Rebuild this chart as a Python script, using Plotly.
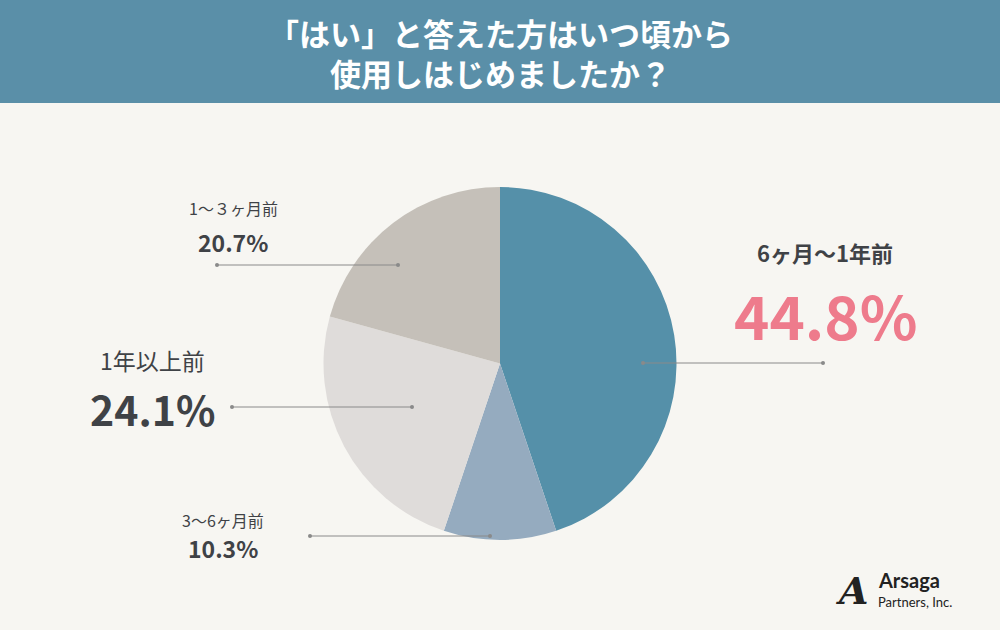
import plotly.graph_objects as go

labels = ["6ヶ月〜1年前", "3〜6ヶ月前", "1年以上前", "1〜３ヶ月前"]
values = [44.8, 10.3, 24.1, 20.7]
colors = ["#5590a9", "#95abbf", "#dfdcda", "#c5c0b9"]

W, H = 1000, 630
BG = "#f7f6f2"
DARK = "#3f4246"


def px(x):
    return x / W


def py(y):
    return 1 - y / H


fig = go.Figure(go.Pie(
    values=values, labels=labels, sort=False, direction="clockwise", rotation=0,
    marker=dict(colors=colors, line=dict(width=0)), textinfo="none",
    hoverinfo="label+percent", showlegend=False,
    domain=dict(x=[px(323), px(677)], y=[py(540), py(187)]),
))

shapes = [dict(type="rect", xref="paper", yref="paper", x0=0, x1=1, y0=py(103), y1=1,
               fillcolor="#5a8fa8", line_width=0, layer="below")]
# leader lines (x0, x1, y)
leaders = [(643, 823, 363), (310, 490, 536), (232, 412, 407), (217, 398, 265)]
for x0, x1, y in leaders:
    shapes.append(dict(type="line", xref="paper", yref="paper", x0=px(x0), x1=px(x1),
                       y0=py(y), y1=py(y), line=dict(color="#8a8a8a", width=1)))
    for x in (x0, x1):
        shapes.append(dict(type="circle", xref="paper", yref="paper",
                           x0=px(x - 2), x1=px(x + 2), y0=py(y - 2), y1=py(y + 2),
                           fillcolor="#8a8a8a", line_width=0))

F = "Noto Sans CJK JP"
ann = [
    dict(x=0.5, y=py(52), text="<b>「はい」と答えた方はいつ頃から<br>使用しはじめましたか？</b>",
         font=dict(size=31, color="white", family=F)),
    dict(x=px(825), y=py(252), text="<b>6ヶ月〜1年前</b>", font=dict(size=22, color=DARK, family=F)),
    dict(x=px(825), y=py(313), text="<b>%.1f%%</b>" % values[0], font=dict(size=60, color="#ee7b8c", family=F)),
    dict(x=px(152), y=py(360), text="1年以上前", font=dict(size=23, color=DARK, family=F)),
    dict(x=px(152), y=py(408), text="<b>%.1f%%</b>" % values[2], font=dict(size=41, color=DARK, family=F)),
    dict(x=px(233), y=py(208), text="1〜３ヶ月前", font=dict(size=16, color=DARK, family=F)),
    dict(x=px(233), y=py(242), text="<b>%.1f%%</b>" % values[3], font=dict(size=23, color=DARK, family=F)),
    dict(x=px(223), y=py(520), text="3〜6ヶ月前", font=dict(size=16, color=DARK, family=F)),
    dict(x=px(223), y=py(548), text="<b>%.1f%%</b>" % values[1], font=dict(size=23, color=DARK, family=F)),
    # logo
    dict(x=px(852), y=py(590), text="<i><b>A</b></i>", font=dict(size=38, color="#222", family="DejaVu Serif")),
    dict(x=px(876), y=py(580), text="<b>Arsaga</b>", xanchor="left", font=dict(size=20, color="#222", family="Lato")),
    dict(x=px(876), y=py(602), text="Partners, Inc.", xanchor="left", font=dict(size=13, color="#222", family="Lato")),
]
for a in ann:
    a.update(xref="paper", yref="paper", showarrow=False, yanchor="middle")
    a.setdefault("xanchor", "center")

fig.update_layout(width=W, height=H, margin=dict(l=0, r=0, t=0, b=0),
                  paper_bgcolor=BG, plot_bgcolor=BG, shapes=shapes, annotations=ann)
fig.write_html("out.html", config={"displayModeBar": False},
               post_script="document.body.style.margin='0';")
